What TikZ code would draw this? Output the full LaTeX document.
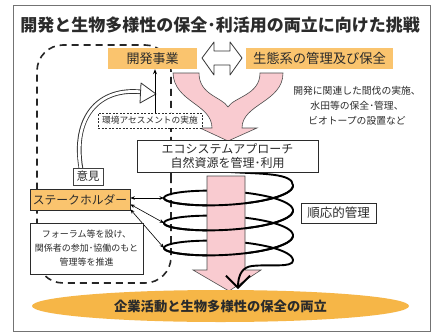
\documentclass[tikz,border=0pt]{standalone}
\usepackage{fontspec}
\setmainfont{Noto Sans CJK JP}
\usetikzlibrary{arrows.meta,calc,shapes.geometric}
\definecolor{boxorange}{HTML}{FAC46E}
\definecolor{ellorange}{HTML}{F6B647}
\definecolor{pinkfill}{HTML}{F9CBD0}
\definecolor{txt}{HTML}{2B2B2B}
\pgfdeclarelayer{bgl}
\pgfdeclarelayer{dashl}
\pgfdeclarelayer{backl}
\pgfdeclarelayer{pinkl}
\pgfdeclarelayer{frontl}
\pgfsetlayers{bgl,dashl,backl,pinkl,frontl,main}
\begin{document}
\begin{tikzpicture}[x=1pt,y=-1pt,
  every node/.style={text=txt, inner sep=0pt},
  obox/.style={fill=boxorange},
  wbox/.style={fill=white, draw=txt, line width=0.7pt},
  spiral/.style={line width=1.9pt, black, line cap=round},
  twohead/.style={{Stealth[length=4.5pt,width=3.5pt]}-{Stealth[length=4.5pt,width=3.5pt]}, line width=0.6pt},
  pinkshape/.style={fill=pinkfill, draw=black!70, line width=0.6pt},
  dloop/.style={line width=1.6pt, dash pattern=on 7pt off 5pt, draw=black!85},
]
\useasboundingbox (0,0) rectangle (433,332);

% nodes
\node[font=\fontsize{17}{20}\selectfont\bfseries] (title) at (220,25) {開発と生物多様性の保全･利活用の両立に向けた挑戦};
\node[obox, minimum width=89pt, minimum height=21pt, font=\fontsize{13}{15}\selectfont] (dev) at (152.5,58.5) {開発事業};
\node[obox, minimum width=147pt, minimum height=21pt, font=\fontsize{13.3}{15}\selectfont] (ecosys) at (319.5,58.5) {生態系の管理及び保全};
\node[font=\fontsize{9.8}{15}\selectfont, align=center] (note) at (357,106) {開発に関連した間伐の実施、\\水田等の保全･管理、\\ビオトープの設置など};
\node[fill=white, draw=txt, line width=0.6pt, dash pattern=on 2pt off 1.5pt, minimum width=104pt, minimum height=15pt, font=\fontsize{8.7}{10}\selectfont] (assess) at (150,120.5) {環境アセスメントの実施};
\node[wbox, minimum width=181pt, minimum height=32pt, align=center, font=\fontsize{12}{13.5}\selectfont] (appr) at (227.5,156) {エコシステムアプローチ\\自然資源を管理･利用};
\node[wbox, draw=black!75, line width=0.8pt, minimum width=30pt, minimum height=17pt, font=\fontsize{11.5}{13}\selectfont] (iken) at (88,176.5) {意見};
\node[obox, draw=txt, line width=0.7pt, minimum width=100pt, minimum height=21pt, font=\fontsize{11.8}{13}\selectfont] (sh) at (80,199.5) {ステークホルダー};
\node[wbox, minimum width=113pt, minimum height=51pt, align=center, font=\fontsize{9}{14}\selectfont] (forum) at (86.5,248.5) {フォーラム等を設け、\\関係者の参加･協働のもと\\管理等を推進};
\node[wbox, minimum width=75pt, minimum height=20pt, font=\fontsize{12.5}{14}\selectfont] (adapt) at (338.5,213) {順応的管理};
\node[ellipse, fill=ellorange, minimum width=377pt, minimum height=32pt, font=\fontsize{13.3}{15}\selectfont\bfseries] (goal) at (220.5,306) {企業活動と生物多様性の保全の両立};

\coordinate (L1) at (164,198);
\coordinate (L2) at (164,223);
\coordinate (L3) at (164,248);
\coordinate (hs) at (230,172);
\coordinate (hend) at (238,289);
\coordinate (hA) at (142,92);

\begin{pgfonlayer}{bgl}
\fill[white] (0,0) rectangle (433,332);
\draw[black!55, line width=1pt] (13,5) rectangle (430,331);
\end{pgfonlayer}

\begin{pgfonlayer}{dashl}
\draw[dloop, rounded corners=26pt] (171,150) -- (171,283) -- (37,283) -- (37,45) -- (171,45) -- cycle;
\end{pgfonlayer}

\begin{pgfonlayer}{backl}
% hollow arrow from iken
\draw[line width=4.6pt, black!80] ($(iken.north)+(-7,1)$) .. controls (72,118) and (98,87) .. (hA);
\draw[line width=2.8pt, white] ($(iken.north)+(-7,2)$) .. controls (72,118) and (98,87) .. (hA);
\draw[fill=white, draw=black!80, line width=0.8pt, line join=round] (141,83) -- (156,94) -- (140,103) -- cycle;
% helix, full (back parts)
\draw[spiral] plot[domain=0:1080, samples=361] ({228.5+64.5*cos(\x)},{185.5+13*sin(\x)+\x/14.4});
\end{pgfonlayer}

\begin{pgfonlayer}{pinkl}
% double hollow arrow
\draw[fill=white, draw=black!80, line width=0.8pt, line join=round] (202,58) -- (214,42) -- (214,51) -- (230,51) -- (230,42) -- (242,58) -- (230,75) -- (230,65) -- (214,65) -- (214,75) -- cycle;
% Y arrow
\draw[pinkshape] (173,73) .. controls (174,102) and (212,104) .. (212,128) -- (200,128) -- (228,141) -- (257,128) -- (242,128) .. controls (242,104) and (283,102) .. (283,73) -- (260,73) .. controls (260,95) and (234,97) .. (228,107) .. controls (222,97) and (199,95) .. (199,73) -- cycle;
% vertical pink arrow
\draw[pinkshape] (207,176) -- (245,176) -- (245,270) -- (261,270) -- (229,291) -- (193,270) -- (207,270) -- cycle;
\end{pgfonlayer}

\begin{pgfonlayer}{frontl}
\draw[spiral] plot[domain=0:180, samples=61] ({228.5+64.5*cos(\x)},{185.5+13*sin(\x)+\x/14.4});
\draw[spiral] plot[domain=360:540, samples=61] ({228.5+64.5*cos(\x)},{185.5+13*sin(\x)+\x/14.4});
\draw[spiral] plot[domain=720:900, samples=61] ({228.5+64.5*cos(\x)},{185.5+13*sin(\x)+\x/14.4});
\draw[spiral] (hs) .. controls (262,174) and (293,173) .. (293,185.5);
\draw[spiral, -{Straight Barb[length=12pt,width=24pt]}] (293,260.5) .. controls (293,268) and (270,264) .. (252,266) .. controls (243,267) and (238,274) .. (hend);
% stakeholder arrows
\draw[twohead] (sh.east |- L1) -- (L1);
\draw[twohead] ($(sh.south east)+(0,-6)$) -- (L2);
\draw[twohead] ($(sh.south east)+(0,-1)$) -- (L3);
% assessment to development
\draw[-{Stealth[length=5pt,width=4pt]}, line width=0.8pt] ($(assess.north)+(5,0)$) -- ($(dev.south)+(2.5,0)$);
\end{pgfonlayer}
\end{tikzpicture}
\end{document}
